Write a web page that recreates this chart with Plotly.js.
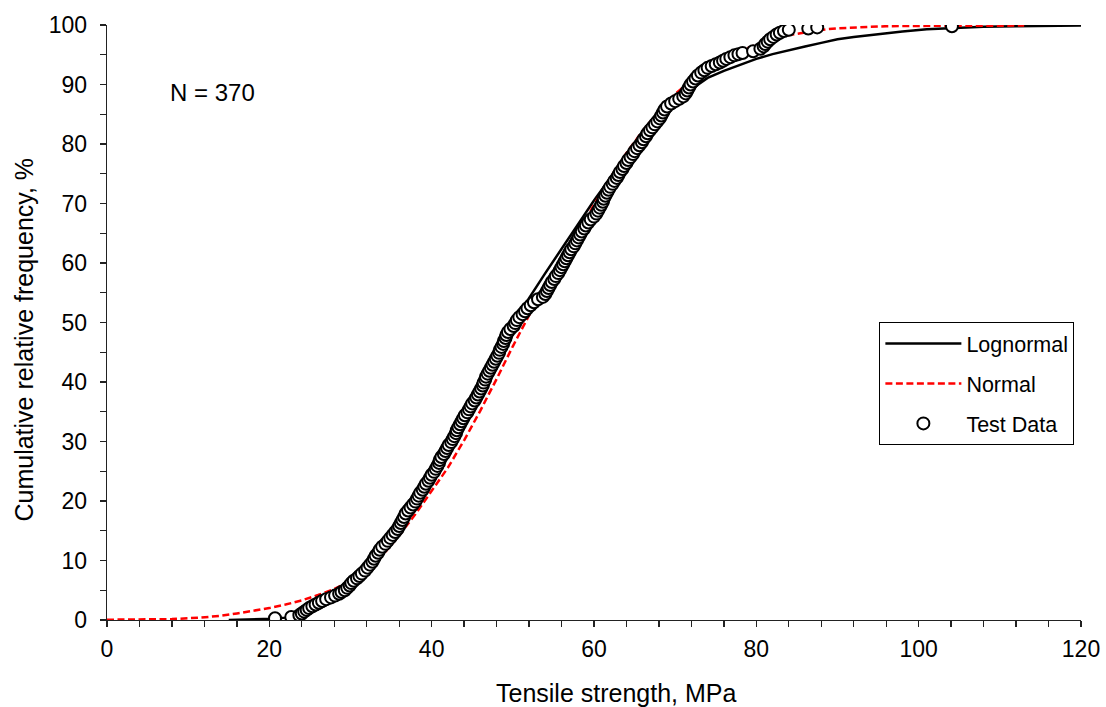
<!DOCTYPE html>
<html>
<head>
<meta charset="utf-8">
<script src="https://cdn.plot.ly/plotly-3.0.1.min.js"></script>
<style>html,body{margin:0;padding:0;background:#fff;}#chart{width:1106px;height:707px;}</style>
</head>
<body>
<div id="chart"></div>
<script>
// Lognormal fitted CDF
const lognormalX = [15, 17, 19, 20.4, 22, 24, 26, 28, 30, 32, 34, 36, 38, 40, 42, 44, 46, 48, 50, 52, 54, 56, 58, 60, 62, 64, 66, 68, 70, 72, 74, 76, 78, 80, 82, 84, 86, 88, 90, 92, 95, 98, 101, 104, 108, 112, 116, 120];
const lognormalY = [0, 0.05, 0.1, 0.2, 0.4, 0.9, 1.8, 3.2, 5.2, 7.9, 11.3, 15.3, 19.8, 24.6, 29.6, 34.7, 39.8, 44.8, 49.6, 54.1, 58.3, 62.4, 66.5, 70.5, 74.3, 77.9, 81.1, 84.1, 86.8, 89.2, 91.1, 92.3, 93.3, 94.3, 95.1, 95.8, 96.4, 97.0, 97.6, 98.0, 98.5, 98.9, 99.3, 99.5, 99.7, 99.8, 99.85, 99.9];

// Normal fitted CDF
const normalX = [0, 4, 8, 11.5, 14, 16, 18, 20, 22, 24, 26, 28, 30, 32, 34, 36, 38, 40, 42, 44, 46, 48, 50, 52, 54, 56, 58, 60, 62, 64, 66, 68, 70, 72, 74, 76, 78, 80, 82, 84, 86, 88, 90, 93, 96, 100, 105, 113];
const normalY = [0.05, 0.08, 0.15, 0.4, 0.7, 1.1, 1.5, 2.0, 2.6, 3.3, 4.2, 5.2, 6.6, 8.5, 11.0, 14.2, 17.8, 21.6, 25.6, 30.2, 35.2, 40.5, 46.0, 51.2, 56.0, 60.5, 65.0, 69.8, 74.3, 78.5, 82.2, 85.5, 88.4, 90.7, 92.6, 94.2, 95.6, 96.7, 97.6, 98.3, 98.8, 99.2, 99.45, 99.65, 99.8, 99.85, 99.88, 99.9];

// Test data: tensile strength (MPa)
const testX = [20.7, 22.7, 23.7, 24.0, 24.3, 24.6, 24.9, 25.3, 25.7, 26.1, 26.5, 27.0, 27.6, 28.1, 28.6, 28.9, 29.3, 29.6, 29.9, 30.1, 30.4, 30.8, 31.1, 31.4, 31.8, 32.1, 32.4, 32.7, 32.9, 33.1, 33.4, 33.6, 33.9, 34.3, 34.6, 34.9, 35.2, 35.5, 35.8, 36.0, 36.2, 36.4, 36.6, 36.8, 37.1, 37.4, 37.7, 38.0, 38.2, 38.4, 38.6, 38.9, 39.1, 39.3, 39.6, 39.8, 40.0, 40.3, 40.5, 40.7, 40.9, 41.0, 41.2, 41.5, 41.7, 41.9, 42.1, 42.4, 42.6, 42.8, 43.0, 43.1, 43.3, 43.5, 43.7, 43.9, 44.1, 44.4, 44.6, 44.8, 45.0, 45.3, 45.5, 45.7, 45.9, 46.1, 46.3, 46.4, 46.6, 46.7, 46.9, 47.1, 47.3, 47.5, 47.7, 47.9, 48.1, 48.3, 48.4, 48.6, 48.8, 48.9, 49.1, 49.2, 49.4, 49.7, 50.1, 50.3, 50.5, 50.8, 51.2, 51.5, 51.8, 52.2, 52.6, 53.1, 53.7, 54.0, 54.2, 54.4, 54.6, 54.8, 55.1, 55.3, 55.6, 55.8, 56.0, 56.2, 56.4, 56.6, 56.8, 57.0, 57.2, 57.5, 57.7, 57.9, 58.1, 58.3, 58.5, 58.8, 59.0, 59.3, 59.6, 60.0, 60.3, 60.5, 60.7, 60.9, 61.1, 61.2, 61.4, 61.6, 61.8, 62.0, 62.3, 62.5, 62.8, 63.0, 63.2, 63.5, 63.7, 64.0, 64.2, 64.5, 64.8, 65.0, 65.3, 65.6, 65.9, 66.1, 66.4, 66.6, 66.9, 67.2, 67.5, 67.8, 68.1, 68.3, 68.5, 68.7, 69.0, 69.5, 70.0, 70.5, 71.0, 71.3, 71.5, 71.7, 71.9, 72.2, 72.5, 72.8, 73.2, 73.6, 74.0, 74.5, 75.0, 75.5, 75.9, 76.3, 76.8, 77.3, 77.8, 78.3, 79.6, 80.5, 80.9, 81.1, 81.4, 81.7, 82.1, 82.5, 82.9, 83.4, 84.0, 86.4, 87.5, 104.1];
// Test data: cumulative relative frequency (%)
const testY = [0.3, 0.5, 0.8, 1.1, 1.4, 1.7, 2.0, 2.3, 2.6, 2.9, 3.2, 3.5, 3.8, 4.1, 4.4, 4.7, 5.0, 5.4, 5.8, 6.2, 6.6, 7.0, 7.4, 7.8, 8.3, 8.8, 9.3, 9.8, 10.3, 10.8, 11.3, 11.8, 12.3, 12.8, 13.3, 13.8, 14.3, 14.8, 15.3, 15.8, 16.3, 16.8, 17.3, 17.9, 18.4, 18.9, 19.4, 19.9, 20.4, 20.9, 21.4, 21.9, 22.4, 22.9, 23.4, 23.9, 24.4, 24.9, 25.4, 25.9, 26.4, 26.9, 27.4, 27.9, 28.4, 28.9, 29.4, 29.9, 30.4, 30.9, 31.4, 31.9, 32.4, 32.9, 33.4, 33.9, 34.4, 34.9, 35.4, 35.9, 36.4, 36.9, 37.4, 37.9, 38.4, 38.9, 39.4, 39.9, 40.4, 40.9, 41.4, 41.9, 42.4, 42.9, 43.4, 43.9, 44.4, 44.9, 45.4, 45.9, 46.4, 46.9, 47.4, 47.9, 48.4, 48.9, 49.4, 49.9, 50.4, 50.9, 51.4, 51.9, 52.4, 52.9, 53.4, 53.9, 54.3, 54.8, 55.3, 55.8, 56.3, 56.8, 57.3, 57.8, 58.3, 58.8, 59.3, 59.8, 60.3, 60.8, 61.3, 61.8, 62.3, 62.8, 63.3, 63.8, 64.3, 64.8, 65.3, 65.8, 66.3, 66.8, 67.3, 67.8, 68.3, 68.8, 69.3, 69.8, 70.3, 70.8, 71.3, 71.8, 72.3, 72.8, 73.3, 73.8, 74.3, 74.8, 75.3, 75.8, 76.3, 76.8, 77.3, 77.8, 78.3, 78.8, 79.3, 79.8, 80.3, 80.8, 81.3, 81.8, 82.3, 82.8, 83.3, 83.8, 84.3, 84.8, 85.3, 85.8, 86.3, 86.8, 87.2, 87.6, 88.0, 88.5, 89.0, 89.5, 90.0, 90.5, 91.0, 91.5, 92.0, 92.4, 92.8, 93.1, 93.4, 93.7, 94.0, 94.3, 94.6, 94.9, 95.1, 95.3, 95.6, 96.0, 96.4, 96.8, 97.2, 97.6, 98.0, 98.4, 98.7, 99.0, 99.2, 99.4, 99.6, 99.8];

const seriesNames = ['Lognormal', 'Normal', 'Test Data'];
const xTicks = [0, 20, 40, 60, 80, 100, 120];
const yTicks = [0, 10, 20, 30, 40, 50, 60, 70, 80, 90, 100];
const sampleLabel = 'N = 370';
const xTitle = 'Tensile strength, MPa';
const yTitle = 'Cumulative relative frequency, %';

const FONT = 'Liberation Sans, Arial, sans-serif';

const traces = [
  {x: lognormalX, y: lognormalY, name: seriesNames[0], mode: 'lines', legendgroup: 'a',
   line: {color: '#000', width: 2.5}},
  {x: normalX, y: normalY, name: seriesNames[1], mode: 'lines', legendgroup: 'b',
   line: {color: '#ff0000', width: 2.5, dash: '7px,3.5px'}},
  {x: testX, y: testY, name: seriesNames[2], mode: 'markers', legendgroup: 'c',
   marker: {symbol: 'circle', size: 12, color: '#fff', line: {color: '#000', width: 2}}}
];

const axisCommon = {
  showline: true, linecolor: '#222', linewidth: 1.3,
  showgrid: false, zeroline: false,
  ticks: 'outside', ticklen: 6, tickwidth: 1.3, tickcolor: '#222',
  tickfont: {family: FONT, size: 23, color: '#000'}
};

const layout = {
  width: 1106, height: 707,
  margin: {l: 107, r: 25, t: 25, b: 87},
  paper_bgcolor: '#fff', plot_bgcolor: '#fff',
  font: {family: FONT, color: '#000'},
  showlegend: true,
  legend: {
    x: 0.793, y: 0.5008, xanchor: 'left', yanchor: 'top',
    bgcolor: '#fff', bordercolor: '#000', borderwidth: 1,
    font: {family: FONT, size: 21.5, color: '#000'},
    traceorder: 'grouped', tracegroupgap: 9, itemwidth: 76
  },
  xaxis: Object.assign({}, axisCommon, {
    range: [0, 120], tickvals: xTicks, ticktext: xTicks.map(String), ticklabelstandoff: 2,
    minor: {dtick: 4, ticks: 'outside', ticklen: 6, tickwidth: 1.3, tickcolor: '#222'}
  }),
  yaxis: Object.assign({}, axisCommon, {
    range: [0, 100], tickvals: yTicks, ticktext: yTicks.map(String), ticklabelstandoff: 8,
    minor: {dtick: 5, ticks: 'outside', ticklen: 6, tickwidth: 1.3, tickcolor: '#222'}
  }),
  xaxis2: {overlaying: 'x', anchor: 'y', side: 'bottom', range: [0, 120], tickvals: xTicks,
    ticks: 'inside', ticklen: 6, tickwidth: 1.3, tickcolor: '#222', showticklabels: false,
    showline: false, showgrid: false, zeroline: false},
  yaxis2: {overlaying: 'y', anchor: 'x', side: 'left', range: [0, 100], tickvals: yTicks,
    ticks: 'inside', ticklen: 6, tickwidth: 1.3, tickcolor: '#222', showticklabels: false,
    showline: false, showgrid: false, zeroline: false},
  annotations: [
    {text: sampleLabel, x: 13, y: 88.6, xref: 'x', yref: 'y', showarrow: false,
     font: {family: FONT, size: 24, color: '#000'}},
    {text: xTitle, x: 0.523, y: -0.122, xref: 'paper', yref: 'paper', xanchor: 'center', yanchor: 'middle',
     showarrow: false, font: {family: FONT, size: 25, color: '#000'}},
    {text: yTitle, x: -0.0852, y: 0.4714, xref: 'paper', yref: 'paper', xanchor: 'center', yanchor: 'middle',
     textangle: -90, showarrow: false, font: {family: FONT, size: 25, color: '#000'}}
  ]
};

Plotly.newPlot('chart', traces, layout, {displayModeBar: false, staticPlot: true});
</script>
</body>
</html>
